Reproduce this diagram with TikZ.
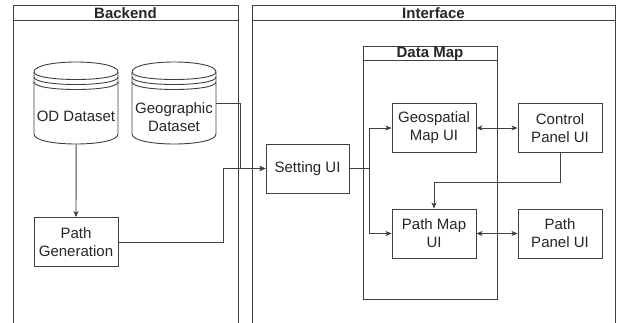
\documentclass[tikz,border=0pt]{standalone}
\usepackage{fontspec}
\setmainfont{Liberation Sans}
\usetikzlibrary{arrows.meta}
\definecolor{lc}{HTML}{404040}
\definecolor{tc}{HTML}{262626}
\newcommand{\dstore}[1]{%
  \begin{scope}[shift={(#1,62)}]
    \draw[line, fill=white] (0,10) .. controls (0,-3.33) and (84,-3.33) .. (84,10) -- (84,72) .. controls (84,85.33) and (0,85.33) .. (0,72) -- cycle;
    \draw[line] (0,10) .. controls (0,20) and (84,20) .. (84,10);
    \draw[line] (0,15) .. controls (0,25) and (84,25) .. (84,15);
    \draw[line] (0,20) .. controls (0,30) and (84,30) .. (84,20);
  \end{scope}}
\begin{document}
\begin{tikzpicture}[x=1pt,y=-1pt,
  line/.style={draw=lc, line width=0.9pt},
  box/.style={draw=lc, line width=0.9pt, fill=white, minimum width=84pt, minimum height=49pt, inner sep=0pt, align=center, text=tc, font=\fontsize{15}{18}\selectfont},
  lbl/.style={text=tc, font=\fontsize{15}{18}\selectfont, align=center, inner sep=0pt},
  ttl/.style={text=tc, font=\fontsize{15}{18}\selectfont\bfseries, inner sep=0pt},
  tip/.style={Stealth[length=6pt,width=5pt,inset=1.5pt]},
  arr/.style={line, -{Stealth[length=6pt,width=5pt,inset=1.5pt]}},
  darr/.style={line, {Stealth[length=6pt,width=5pt,inset=1.5pt]}-{Stealth[length=6pt,width=5pt,inset=1.5pt]}},
  area/.style={minimum width=84pt, minimum height=82pt, inner sep=0pt, anchor=north west}
]
\useasboundingbox (0,0) rectangle (617,322);
\fill[white] (0,0) rectangle (617,322);

% Backend swimlane
\draw[line] (13,323) -- (13,5) -- (238,5) -- (238,323);
\draw[line] (13,20) -- (238,20);
\node[ttl] (backend) at (125.5,13) {Backend};

% Interface swimlane
\draw[line] (252,323) -- (252,5) -- (615,5) -- (615,323);
\draw[line] (252,20) -- (615,20);
\node[ttl] (interface) at (433.5,13) {Interface};

% Data Map container
\node[draw=lc, line width=0.9pt, minimum width=134pt, minimum height=253pt, inner sep=0pt, anchor=north west] (datamap) at (363,46) {};
\draw[line] (363,60) -- (497,60);
\node[ttl] (dmtitle) at (430,53.5) {Data Map};

% Datastores
\dstore{34}
\dstore{132}
\node[area] (odcyl) at (34,62) {};
\node[area] (geocyl) at (132,62) {};
\node[lbl] (odlbl) at (76,116) {OD Dataset};
\node[lbl] (geolbl) at (174,117) {Geographic\\Dataset};

% Boxes
\node[box] (pathgen) at (76,242) {Path\\Generation};
\node[box, minimum width=83pt] (setting) at (307.5,168.5) {Setting UI};
\node[box] (geo) at (434,128) {Geospatial\\Map UI};
\node[box] (control) at (560,128) {Control\\Panel UI};
\node[box] (pathmap) at (434,233.5) {Path Map\\UI};
\node[box] (pathpanel) at (560,233.5) {Path\\Panel UI};

% Connectors
\draw[arr] (odcyl.south) -- (pathgen.north);
\draw[arr] (pathgen.east) -| ([xshift=-42.5pt]setting.west) -- (setting.west);
\draw[arr] (geocyl.east) -| ([xshift=-25pt]setting.west) -- (setting.west);
\draw[arr] (setting.east) -| ([xshift=-22pt]geo.west) -- (geo.west);
\draw[arr] (setting.east) -| ([xshift=-22pt]pathmap.west) -- (pathmap.west);
\draw[darr] (geo.east) -- (control.west);
\draw[arr] (control.south) -- ++(0,29) -| (pathmap.north);
\draw[darr] (pathmap.east) -- (pathpanel.west);
\end{tikzpicture}
\end{document}
